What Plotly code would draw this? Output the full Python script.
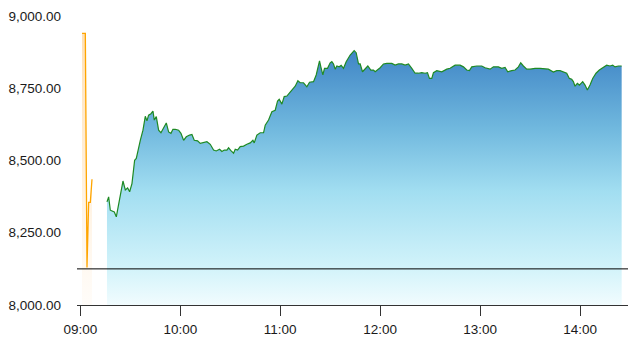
import plotly.graph_objects as go

DAY = "2024-01-01 "

# Pre-open / auction series (orange)
pre_times = ["09:01:00", "09:02:00", "09:03:00", "09:04:00", "09:05:00", "09:06:00", "09:07:00"]
pre_values = [8940, 8940, 8940, 8130, 8355, 8355, 8435]

# Continuous trading series (green line, blue fill)
main_times = [
    "09:16:00", "09:17:00", "09:18:00", "09:20:24", "09:21:36", "09:23:36", "09:25:36", "09:27:00",
    "09:28:24", "09:29:36", "09:31:00", "09:32:36", "09:33:36", "09:36:00", "09:37:36", "09:39:00",
    "09:40:00", "09:41:00", "09:42:24", "09:43:36", "09:44:24", "09:45:36", "09:47:00", "09:48:24",
    "09:50:00", "09:51:36", "09:53:00", "09:54:24", "09:55:36", "09:57:00", "09:59:00", "10:00:24",
    "10:02:00", "10:03:36", "10:05:36", "10:07:00", "10:08:24", "10:10:24", "10:12:00", "10:14:00",
    "10:16:00", "10:18:00", "10:20:00", "10:21:36", "10:23:36", "10:25:00", "10:26:24", "10:28:00",
    "10:29:00", "10:30:24", "10:32:00", "10:33:00", "10:34:24", "10:36:00", "10:38:00", "10:40:00",
    "10:42:00", "10:43:36", "10:44:24", "10:46:00", "10:48:00", "10:50:00", "10:51:00", "10:53:00",
    "10:55:00", "10:57:00", "10:58:24", "10:59:24", "11:01:00", "11:02:24", "11:04:00", "11:05:36",
    "11:07:36", "11:09:00", "11:10:36", "11:12:00", "11:14:00", "11:16:00", "11:17:36", "11:20:00",
    "11:21:36", "11:22:36", "11:23:36", "11:24:24", "11:25:36", "11:26:36", "11:28:24", "11:30:00",
    "11:31:00", "11:32:00", "11:33:00", "11:34:00", "11:35:24", "11:36:36", "11:38:00", "11:39:36",
    "11:42:00", "11:44:24", "11:45:36", "11:47:00", "11:48:00", "11:49:24", "11:51:00", "11:52:36",
    "11:54:24", "11:56:00", "11:57:00", "11:58:24", "12:00:00", "12:02:00", "12:04:00", "12:07:00",
    "12:09:00", "12:11:00", "12:13:00", "12:15:00", "12:17:00", "12:19:00", "12:21:00", "12:23:00",
    "12:25:00", "12:27:00", "12:28:24", "12:29:36", "12:31:00", "12:32:00", "12:34:00", "12:37:00",
    "12:39:00", "12:40:00", "12:42:00", "12:45:00", "12:48:00", "12:50:00", "12:52:00", "12:53:36",
    "12:55:00", "12:58:00", "13:01:00", "13:03:00", "13:06:00", "13:08:00", "13:11:00", "13:13:00",
    "13:15:00", "13:16:36", "13:19:00", "13:21:00", "13:23:00", "13:24:24", "13:26:00", "13:28:00",
    "13:30:00", "13:33:00", "13:36:00", "13:39:00", "13:41:00", "13:44:00", "13:46:00", "13:48:00",
    "13:50:00", "13:52:00", "13:53:36", "13:55:00", "13:56:00", "13:57:00", "13:58:24", "13:59:36",
    "14:01:36", "14:03:00", "14:04:24", "14:06:00", "14:07:36", "14:09:36", "14:11:36", "14:14:00",
    "14:16:00", "14:18:00", "14:19:36", "14:21:00", "14:23:00", "14:25:00",
]
main_values = [
    8357, 8374, 8328, 8322, 8305, 8374, 8429, 8398,
    8405, 8392, 8420, 8501, 8507, 8570, 8605, 8653,
    8637, 8657, 8662, 8671, 8640, 8652, 8605, 8596,
    8614, 8630, 8599, 8594, 8608, 8608, 8605, 8594,
    8570, 8582, 8588, 8590, 8570, 8568, 8559, 8561,
    8565, 8556, 8536, 8533, 8539, 8531, 8536, 8536,
    8544, 8534, 8525, 8539, 8536, 8548, 8550, 8556,
    8561, 8570, 8561, 8588, 8596, 8596, 8622, 8640,
    8669, 8674, 8706, 8712, 8695, 8721, 8723, 8734,
    8746, 8757, 8776, 8769, 8769, 8755, 8771, 8773,
    8796, 8819, 8845, 8824, 8796, 8819, 8819, 8838,
    8842, 8834, 8816, 8827, 8824, 8829, 8819, 8842,
    8865, 8880, 8873, 8834, 8834, 8807, 8819, 8827,
    8813, 8813, 8807, 8813, 8821, 8834, 8836, 8836,
    8830, 8834, 8834, 8830, 8834, 8819, 8802, 8802,
    8804, 8802, 8804, 8784, 8784, 8804, 8811, 8807,
    8813, 8816, 8819, 8830, 8830, 8824, 8813, 8811,
    8824, 8827, 8827, 8821, 8816, 8824, 8824, 8819,
    8822, 8807, 8811, 8813, 8824, 8838, 8827, 8816,
    8816, 8819, 8819, 8816, 8816, 8806, 8811, 8811,
    8807, 8802, 8784, 8781, 8773, 8757, 8767, 8761,
    8773, 8761, 8744, 8761, 8784, 8802, 8813, 8822,
    8830, 8827, 8830, 8824, 8827, 8827,
]

prev_close = 8125
y_ticks = [8000, 8250, 8500, 8750, 9000]
x_ticks = ["09:00", "10:00", "11:00", "12:00", "13:00", "14:00"]
x_start = "08:58:00"
x_end = "14:28:48"
y_min, y_max = 8000, 9000

fig = go.Figure()

fig.add_trace(go.Scatter(
    x=[DAY + t for t in pre_times], y=pre_values,
    mode="lines", line=dict(color="#ffa500", width=1.3),
    fill="tozeroy",
    fillgradient=dict(type="vertical", start=y_min, stop=max(pre_values),
                      colorscale=[[0, "rgba(255,190,110,0.04)"], [1, "rgba(255,175,60,0.38)"]]),
    hoverinfo="skip", showlegend=False,
))

fig.add_trace(go.Scatter(
    x=[DAY + t for t in main_times], y=main_values,
    mode="lines", line=dict(color="#1f8a24", width=1.2),
    fill="tozeroy",
    fillgradient=dict(type="vertical", start=y_min, stop=max(main_values),
                      colorscale=[[0, "rgb(242,252,254)"], [0.15, "rgb(210,243,250)"],
                                  [0.45, "rgb(162,222,241)"], [0.7, "rgb(112,184,222)"],
                                  [1, "rgb(64,134,198)"]]),
    hoverinfo="skip", showlegend=False,
))

fig.add_shape(type="line", xref="paper", x0=0, x1=1, yref="y", y0=prev_close, y1=prev_close,
              line=dict(color="#000000", width=1))

fig.update_layout(
    width=633, height=350,
    margin=dict(l=77, r=5, t=16, b=45),
    paper_bgcolor="white", plot_bgcolor="white",
    font=dict(family="Liberation Sans, Arial, sans-serif", size=13.5, color="#1a1a1a"),
    xaxis=dict(
        type="date",
        range=[DAY + x_start, DAY + x_end],
        tickvals=[DAY + t for t in x_ticks], ticktext=x_ticks,
        showgrid=False, zeroline=False,
        showline=True, linecolor="#333", linewidth=1,
        ticks="outside", ticklen=10, tickcolor="#333", tickwidth=1,
        ticklabelstandoff=2,
    ),
    yaxis=dict(
        range=[y_min, y_max],
        tickvals=y_ticks, tickformat=",.2f",
        showgrid=False, zeroline=False, showline=False,
        ticks="", ticklabelstandoff=15,
    ),
)

fig.write_html("out.html")
